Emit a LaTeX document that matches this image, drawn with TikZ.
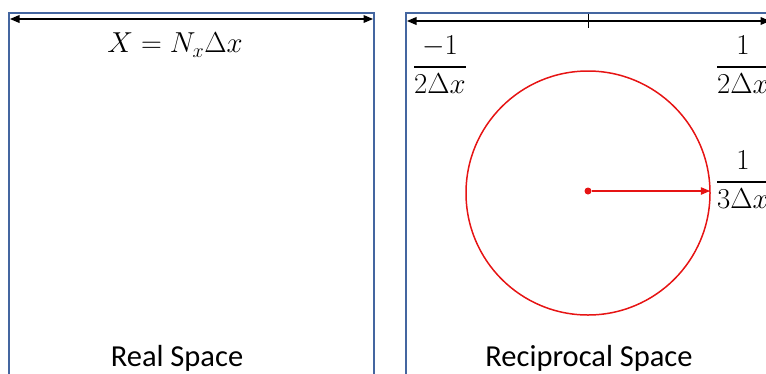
\documentclass[tikz,border=0pt]{standalone}
\usepackage{amsmath}
\usepackage{fontspec}
\setsansfont{Carlito}
\usetikzlibrary{arrows,calc,positioning}
\definecolor{boxblue}{RGB}{68,102,160}
\definecolor{circred}{RGB}{230,20,20}
\tikzstyle{panel}=[draw=boxblue,line width=1.5pt]
\tikzstyle{axis}=[triangle 45-triangle 45,line width=1.2pt,black]
\tikzstyle{lab}=[font=\fontsize{24}{28}\selectfont,inner sep=0pt,scale=1.16,transform shape]
\tikzstyle{title}=[font=\sffamily\fontsize{30.5}{36}\selectfont,inner sep=0pt]

\begin{document}
\begin{tikzpicture}[x=1pt,y=-1pt]
  \useasboundingbox (0,0) rectangle (766,373);
  % panels
  \draw[panel] (9,13) rectangle (374,390);
  \draw[panel] (406,13) rectangle (790,390);
  % real space axis
  \coordinate (L0) at (10,19);
  \coordinate (L1) at (373,19);
  \draw[axis] (L0)--(L1);
  \node[lab] (X) at (175,45) {$X = N_x\Delta x$};
  % reciprocal space axis
  \coordinate (R0) at (407,21);
  \coordinate (R1) at (770,21);
  \draw[axis] (R0)--(R1);
  \coordinate (T0) at (588,14);
  \coordinate (T1) at (588,28);
  \draw[line width=1pt] (T0)--(T1);
  \node[lab] (kmin) at (440,65) {$\dfrac{-1}{2\Delta x}$};
  \node[lab] (kmax) at (743,65) {$\dfrac{1}{2\Delta x}$};
  % circle
  \node[circle,draw=circred,line width=1.5pt,minimum size=244pt,inner sep=0pt] (C) at (588,193) {};
  \node[circle,fill=circred,inner sep=0pt,minimum size=7pt] (O) at (588,191) {};
  \coordinate (E) at (710,191);
  \draw[-triangle 45,circred,line width=1.1pt] (O)--(E);
  \node[lab] (kr) at (743,180) {$\dfrac{1}{3\Delta x}$};
  % titles
  \node[title] (real) at (177,358) {Real Space};
  \node[title] (recip) at (589,358) {Reciprocal Space};
\end{tikzpicture}
\end{document}
